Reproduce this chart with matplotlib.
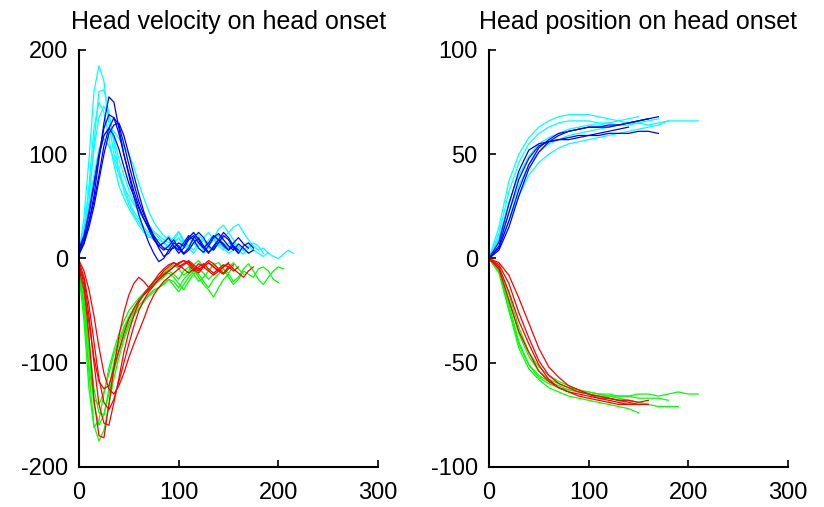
import numpy as np
import matplotlib
matplotlib.use("Agg")
import matplotlib.pyplot as plt

plt.rcParams['font.family'] = ['Liberation Sans', 'DejaVu Sans']
plt.rcParams['axes.unicode_minus'] = False

# sample spacing of the traces
vel_step = 5
pos_step = 10

# ---- head velocity traces (one value every vel_step) ----
vel_cyan = [
    [5, 40, 95, 160, 185, 170, 130, 100, 85, 70, 55, 45, 38, 30, 25, 20, 18, 15, 12, 15, 10, 18, 12, 20, 15, 8, 14, 20, 12, 8, 15, 10, 12, 8, 6],
    [8, 30, 65, 105, 135, 146, 138, 115, 95, 80, 66, 55, 45, 38, 30, 25, 20, 15, 10, 14, 20, 12, 8, 15, 22, 18, 12, 20, 28, 32, 25, 18, 10, 8, 12, 8, 5, 2, 6],
    [5, 20, 45, 75, 100, 118, 125, 122, 115, 108, 100, 88, 72, 58, 45, 35, 28, 22, 18, 15, 20, 12, 18, 25, 15, 10, 18, 22, 15, 20, 25, 30, 33, 25, 18, 12, 8, 10, 5, 2, 0, 4, 8, 5],
    [3, 25, 70, 125, 150, 140, 115, 90, 70, 58, 48, 40, 32, 25, 20, 22, 15, 10, 12, 18, 25, 15, 10, 5, 12, 18, 10, 8, 15, 10, 5, 8],
    [10, 25, 50, 80, 105, 115, 108, 95, 80, 68, 60, 52, 45, 38, 32, 26, 22, 18, 15, 20, 26, 18, 12, 8, 15, 20, 25, 18, 12, 15, 10, 12, 8],
    [2, 20, 55, 110, 160, 162, 140, 110, 85, 65, 52, 42, 35, 28, 22, 18, 12, 16, 22, 14, 8, 12, 20, 15, 10, 5, 12, 18, 22, 14, 10, 15, 8, 4, 10, 15, 12, 5],
]
vel_blue = [
    [5, 15, 35, 60, 95, 130, 155, 150, 125, 100, 80, 60, 42, 28, 15, 5, -3, 0, 8, 10, 15, 12, 20, 25, 18, 10, 15, 22, 18, 12, 8, 15, 20, 14, 10],
    [8, 18, 35, 55, 80, 108, 125, 135, 128, 110, 90, 72, 55, 42, 32, 22, 15, 10, 8, 15, 12, 5, 10, 20, 25, 20, 12, 8, 15, 22, 18, 10, 5, 12, 15, 10],
    [6, 20, 42, 70, 98, 118, 125, 118, 105, 88, 72, 60, 48, 38, 30, 20, 12, 15, 20, 12, 5, 10, 18, 22, 15, 10, 5, 12, 18, 25, 20, 12, 8],
    [10, 22, 45, 72, 100, 125, 138, 135, 120, 100, 82, 65, 50, 38, 28, 18, 12, 8, 12, 18, 10, 4, 8, 15, 20, 12, 6, 10, 18, 14, 8, 12, 5],
    [4, 14, 30, 50, 75, 100, 120, 128, 130, 118, 100, 80, 62, 45, 32, 20, 10, 2, 5, 12, 8, 15, 22, 18, 10, 6, 12, 20, 24, 18, 12, 8, 14, 10, 5, 8],
]
vel_green = [
    [-5, -45, -110, -160, -175, -165, -140, -115, -95, -78, -65, -55, -48, -42, -35, -30, -28, -25, -20, -22, -28, -20, -15, -10, -18, -25, -30, -37, -28, -20, -15, -22, -18, -10, -5, -12, -20, -25, -18, -12, -8, -10],
    [-10, -35, -90, -140, -160, -150, -125, -100, -82, -68, -58, -50, -42, -35, -30, -25, -22, -18, -12, -15, -20, -12, -8, -15, -22, -18, -12, -5, -10, -15, -8, -4, -10, -15],
    [-20, -40, -80, -125, -148, -150, -130, -108, -90, -75, -62, -52, -45, -40, -36, -32, -28, -24, -20, -26, -32, -25, -18, -12, -15, -22, -28, -20, -15, -10, -18, -25, -20, -12, -15, -18, -10, -8, -12, -20, -23],
    [-8, -50, -105, -135, -140, -128, -110, -92, -78, -66, -56, -48, -40, -34, -28, -22, -18, -14, -10, -6, -10, -16, -12, -6, -2, -8, -12, -6, -4, -10, -14, -8],
    [-15, -60, -125, -162, -155, -130, -105, -88, -72, -60, -50, -44, -38, -33, -28, -24, -20, -17, -14, -18, -24, -30, -22, -15, -10, -14, -20, -15, -10, -6],
]
vel_red = [
    [-5, -25, -75, -135, -170, -172, -140, -105, -75, -52, -35, -24, -18, -22, -28, -22, -15, -10, -6, -4, -8, -5, -2, -6, -10, -8, -4, -8, -12, -8, -4],
    [-3, -18, -45, -80, -115, -138, -145, -135, -118, -100, -82, -65, -50, -40, -32, -26, -20, -16, -12, -8, -4, -2, -6, -12, -8, -5, -10, -14, -10, -6, -8, -12, -8],
    [-10, -30, -62, -95, -118, -125, -122, -105, -88, -72, -58, -48, -40, -35, -30, -25, -20, -15, -12, -8, -5, -2, -4, -10, -14, -8, -4, -8, -12, -15, -10, -6],
    [-8, -20, -55, -100, -140, -158, -160, -138, -115, -90, -70, -55, -42, -34, -28, -22, -18, -12, -8, -4, -6, -10, -14, -10, -5, -8, -12, -16, -12, -8, -5, -10, -14, -18, -12, -8],
    [-2, -12, -30, -55, -85, -110, -125, -130, -122, -110, -95, -82, -70, -58, -45, -35, -28, -22, -18, -14, -10, -6, -3, -8, -12, -6, -2, -5, -10, -14, -8],
]

# ---- head position traces (one value every pos_step) ----
pos_cyan = [
    [0, 15, 37, 50, 58, 63, 66, 68, 69, 69, 69, 68, 67, 66, 65, 65, 64, 65, 66, 66, 66, 66],
    [0, 12, 32, 46, 55, 60, 63, 65, 66, 66, 66, 65, 65, 64, 64, 65, 66, 67],
    [0, 6, 18, 30, 40, 46, 50, 53, 55, 56, 57, 58, 59, 60, 61, 62, 63, 64, 66],
    [0, 8, 22, 35, 45, 51, 55, 57, 59, 60, 61, 62, 63, 64, 65, 66, 67],
    [0, 10, 27, 40, 49, 55, 58, 60, 62, 63, 64, 64, 65, 66, 67, 68],
]
pos_blue = [
    [0, 6, 22, 38, 48, 54, 56, 57, 58, 59, 59, 59, 60, 60, 60, 61, 61, 60],
    [0, 5, 18, 33, 45, 53, 57, 60, 61, 62, 63, 63, 63, 64, 65, 66, 67],
    [0, 4, 15, 30, 43, 51, 56, 59, 61, 62, 63, 63, 64, 64, 65, 66, 67, 68],
    [0, 8, 26, 42, 52, 55, 56, 57, 57, 58, 59, 60, 61, 62, 63],
]
pos_green = [
    [0, -6, -22, -40, -51, -56, -59, -61, -63, -64, -65, -66, -66, -66, -66, -65, -65, -66, -65, -64, -65, -65],
    [0, -5, -20, -36, -47, -54, -58, -60, -62, -63, -64, -65, -66, -67, -68, -69, -70, -71, -71, -71],
    [0, -7, -25, -43, -53, -58, -62, -64, -66, -67, -68, -69, -70, -71, -72, -74],
    [0, -4, -17, -33, -45, -52, -56, -59, -61, -63, -65, -66, -67, -68, -68, -69, -70],
    [0, -6, -24, -41, -51, -57, -60, -62, -63, -64, -64, -65, -65, -66, -66, -67, -67, -67, -68],
]
pos_red = [
    [0, -3, -12, -26, -38, -49, -56, -60, -62, -64, -65, -66, -67, -68, -69, -70],
    [0, -2, -8, -19, -31, -43, -52, -57, -61, -63, -65, -67, -68, -69, -70, -70, -70],
    [0, -4, -16, -30, -41, -51, -58, -62, -64, -66, -67, -68, -69, -70, -70],
    [0, -5, -20, -35, -45, -54, -59, -62, -64, -65, -66, -67, -67, -68, -68, -69, -68],
]

titles = ['Head velocity on head onset', 'Head position on head onset']
x_ticks = [0, 100, 200, 300]
vel_ticks = [-200, -100, 0, 100, 200]
pos_ticks = [-100, -50, 0, 50, 100]

fig = plt.figure(figsize=(8.24, 5.07), dpi=100)
ax1 = fig.add_axes([0.0959, 0.0789, 0.3628, 0.8225])
ax2 = fig.add_axes([0.5934, 0.0789, 0.3628, 0.8225])


def draw(ax, groups, step):
    for traces, col in groups:
        for tr in traces:
            t = np.arange(len(tr)) * step
            ax.plot(t, tr, color=col, lw=0.9)


draw(ax1, [(vel_cyan, '#00ffff'), (vel_blue, '#0000ff'), (vel_green, '#00ff00'), (vel_red, '#ff0000')], vel_step)
draw(ax2, [(pos_cyan, '#00ffff'), (pos_blue, '#0000ff'), (pos_green, '#00ff00'), (pos_red, '#ff0000')], pos_step)

for ax, yt, title in [(ax1, vel_ticks, titles[0]), (ax2, pos_ticks, titles[1])]:
    ax.set_xlim(0, 300)
    ax.set_ylim(yt[0], yt[-1])
    ax.set_xticks(x_ticks)
    ax.set_yticks(yt)
    ax.set_xticklabels([str(v) for v in x_ticks])
    ax.set_yticklabels([str(v) for v in yt])
    ax.spines['top'].set_visible(False)
    ax.spines['right'].set_visible(False)
    ax.spines['left'].set_linewidth(1.5)
    ax.spines['bottom'].set_linewidth(1.5)
    ax.tick_params(direction='in', length=5, width=1.2, labelsize=17)
    ax.tick_params(axis='x', pad=11)
    ax.tick_params(axis='y', pad=8)
    ax.set_title(title, fontsize=18, pad=15)

fig.savefig('out.png', dpi=100)
